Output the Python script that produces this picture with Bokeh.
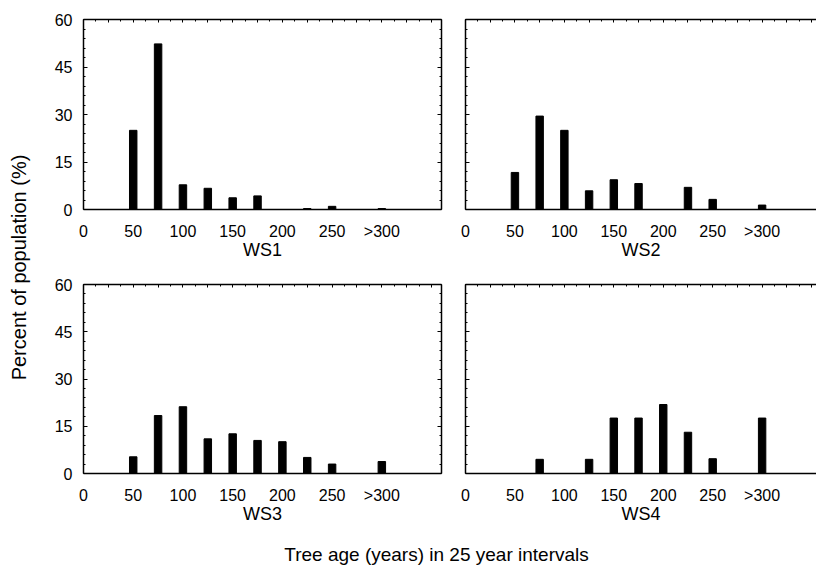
import math
from bokeh.plotting import figure
from bokeh.layouts import row, column
from bokeh.models import Range1d, LinearAxis, FixedTicker, Label, CustomJSTickFormatter
from bokeh.embed import file_html
from bokeh.resources import INLINE

# ---------------- data ----------------
ages = [50, 75, 100, 125, 150, 175, 200, 225, 250, 275, 300]
ws1 = [25.0, 52.3, 7.8, 6.7, 3.7, 4.3, 0.0, 0.3, 1.0, 0.0, 0.3]
ws2 = [11.7, 29.5, 25.0, 5.9, 9.4, 8.2, 0.0, 7.0, 3.2, 0.0, 1.4]
ws3 = [5.3, 18.4, 21.2, 11.0, 12.6, 10.5, 10.1, 5.1, 3.0, 0.0, 3.8]
ws4 = [0.0, 4.5, 0.0, 4.5, 17.6, 17.6, 21.9, 13.1, 4.7, 0.0, 17.6]
panel_names = ["WS1", "WS2", "WS3", "WS4"]
x_ticks = [0, 50, 100, 150, 200, 250, 300]
x_tick_labels = ["0", "50", "100", "150", "200", "250", ">300"]
y_ticks = [0, 15, 30, 45, 60]
y_label = "Percent of population (%)"
x_label = "Tree age (years) in 25 year intervals"

FONT = "Liberation Sans"


def hide_labels(ax):
    ax.major_label_text_font_size = "1px"
    ax.major_label_text_color = None
    ax.major_label_standoff = 0


def panel(vals, name, xmax, width, height, mbl, mbr, mbt, mbb, ylabels, right_axis):
    p = figure(width=width, height=height, x_range=Range1d(0, xmax), y_range=Range1d(0, 60),
               output_backend="svg", toolbar_location=None,
               x_axis_location=None, y_axis_location=None,
               min_border_left=mbl, min_border_right=mbr,
               min_border_top=mbt, min_border_bottom=mbb)
    p.outline_line_color = None
    p.xgrid.grid_line_color = None
    p.ygrid.grid_line_color = None
    p.background_fill_color = "white"
    p.border_fill_color = "white"
    p.vbar(x=ages, top=vals, width=7.5, fill_color="black", line_color="black")

    # bottom axis
    fmt = CustomJSTickFormatter(args=dict(xt=x_ticks, xlab=x_tick_labels),
                                code="const i = xt.indexOf(tick); return i >= 0 ? xlab[i] : '';")
    b = LinearAxis(ticker=FixedTicker(ticks=x_ticks), formatter=fmt, axis_label=name)
    b.major_tick_line_color = None
    b.minor_tick_line_color = None
    b.major_tick_in = 0
    b.major_tick_out = 0
    b.axis_line_width = 1.5
    b.axis_line_color = "black"
    b.major_label_text_font = FONT
    b.major_label_text_font_size = "16px"
    b.major_label_text_color = "black"
    b.major_label_standoff = 13
    b.axis_label_text_font = FONT
    b.axis_label_text_font_size = "18px"
    b.axis_label_text_font_style = "normal"
    b.axis_label_text_color = "black"
    b.axis_label_standoff = -3
    p.add_layout(b, "below")

    # left axis
    l = LinearAxis(ticker=FixedTicker(ticks=y_ticks, minor_ticks=list(range(0, 61, 3))))
    l.major_tick_in = 4
    l.major_tick_out = 0
    l.minor_tick_in = 2
    l.minor_tick_out = 0
    l.axis_line_width = 1.5
    l.axis_line_color = "black"
    if ylabels:
        l.major_label_text_font = FONT
        l.major_label_text_font_size = "16px"
        l.major_label_text_color = "black"
        l.major_label_standoff = 11
    else:
        hide_labels(l)
    p.add_layout(l, "left")

    # top axis (inward ticks only)
    t = LinearAxis(ticker=FixedTicker(ticks=[v * 25 for v in range(0, 15)],
                                      minor_ticks=[v * 12.5 for v in range(0, 29)]))
    t.major_tick_in = 3
    t.major_tick_out = 0
    t.minor_tick_in = 2
    t.minor_tick_out = 0
    t.axis_line_width = 1.5
    t.axis_line_color = "black"
    hide_labels(t)
    p.add_layout(t, "above")

    if right_axis:
        r = LinearAxis(ticker=FixedTicker(ticks=y_ticks, minor_ticks=list(range(0, 61, 3))))
        r.major_tick_in = 4
        r.major_tick_out = 0
        r.minor_tick_in = 2
        r.minor_tick_out = 0
        r.axis_line_width = 1.5
        r.axis_line_color = "black"
        hide_labels(r)
        p.add_layout(r, "right")
    return p


TOP_H = 262
BOT_H = 264
LW, RW = 415, 363

tl = panel(ws1, panel_names[0], 360, LW, TOP_H, 45, 12, 19, 51, True, True)
tr = panel(ws2, panel_names[1], 355, RW, TOP_H, 12, 0, 19, 51, False, False)
bl = panel(ws3, panel_names[2], 360, LW, BOT_H, 45, 12, 22, 51, True, True)
br = panel(ws4, panel_names[3], 355, RW, BOT_H, 12, 0, 22, 51, False, False)

# y label strip
YL_W = 38
YL_H = TOP_H + BOT_H
yl = figure(width=YL_W, height=YL_H, x_range=Range1d(0, YL_W), y_range=Range1d(0, YL_H),
            output_backend="svg", toolbar_location=None, x_axis_location=None, y_axis_location=None,
            min_border=0, min_border_left=0, min_border_right=0, min_border_top=0, min_border_bottom=0)
yl.outline_line_color = None
yl.xgrid.grid_line_color = None
yl.ygrid.grid_line_color = None
yl.add_layout(Label(x=18.5, y=YL_H - 267, text=y_label, angle=math.pi / 2,
                    text_align="center", text_baseline="middle",
                    text_font=FONT, text_font_size="20px", text_color="black"))

# x label strip
XL_W = 816
XL_H = 569 - YL_H
xl = figure(width=XL_W, height=XL_H, x_range=Range1d(0, XL_W), y_range=Range1d(0, XL_H),
            output_backend="svg", toolbar_location=None, x_axis_location=None, y_axis_location=None,
            min_border=0, min_border_left=0, min_border_right=0, min_border_top=0, min_border_bottom=0)
xl.outline_line_color = None
xl.xgrid.grid_line_color = None
xl.ygrid.grid_line_color = None
xl.add_layout(Label(x=436, y=15, text=x_label, text_align="center", text_baseline="middle",
                    text_font=FONT, text_font_size="19px", text_color="black"))

layout = column(row(yl, column(row(tl, tr), row(bl, br))), xl)

open("out.html", "w").write(file_html(layout, INLINE))
